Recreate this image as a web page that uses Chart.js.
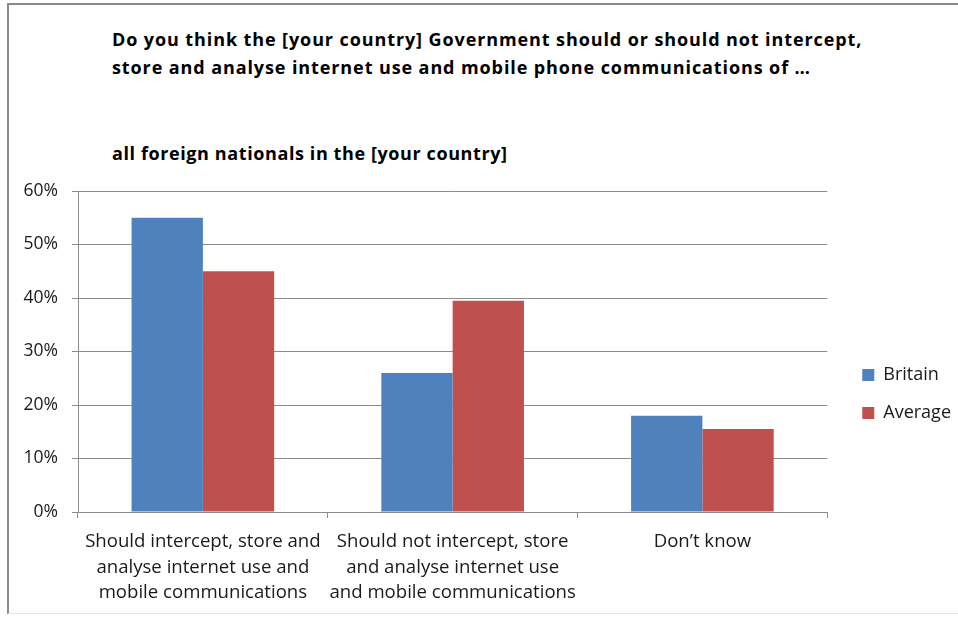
<!DOCTYPE html>
<html>
<head>
<meta charset="utf-8">
<title>Interception of communications of foreign nationals</title>
<script src="https://cdn.jsdelivr.net/npm/chart.js@4.4.1/dist/chart.umd.min.js"></script>
<style>
  html, body { margin: 0; padding: 0; background: #fff; }
  #wrap { position: relative; width: 958px; height: 617px; overflow: hidden; }
  #frame {
    position: absolute; left: 7px; top: 3px; width: 1000px; height: 611px;
    border-top: 2px solid #8a8a8a; border-left: 2px solid #8a8a8a;
    border-bottom: 1px solid #e4e4e4; box-sizing: border-box;
  }
  .heading {
    position: absolute; left: 112px; margin: 0;
    font-family: "Open Sans", Lato, sans-serif; font-weight: bold;
    font-size: 18px; line-height: 28px; color: #000; white-space: nowrap;
    letter-spacing: 0.9px;
  }
  #q { top: 25px; }
  #sub { top: 139px; letter-spacing: 0.6px; }
  canvas { position: absolute; left: 0; top: 0; }
</style>
</head>
<body>
<div id="wrap">
  <div id="frame"></div>
  <div class="heading" id="q">Do you think the [your country] Government should or should not intercept,<br>store and analyse internet use and mobile phone communications of …</div>
  <div class="heading" id="sub">all foreign nationals in the [your country]</div>
  <canvas id="chart" width="958" height="617"></canvas>
</div>
<script>
// Answer categories (each label split into its display lines)
const categories = [
  ['Should intercept, store and', 'analyse internet use and', 'mobile communications'],
  ['Should not intercept, store', 'and analyse internet use', 'and mobile communications'],
  ['Don\u2019t know']
];

// Share of respondents per answer
const britain = [0.55, 0.26, 0.18];
const average = [0.45, 0.395, 0.155];

// Value axis ticks
const yTicks = [0, 0.1, 0.2, 0.3, 0.4, 0.5, 0.6];

const FONT = '"Open Sans", Lato, sans-serif';
const GRID = '#8c8c8c';

// Move the legend out to the right of the plot and down to mid-height
const legendOffset = {
  id: 'legendOffset',
  afterLayout(chart, args, opts) {
    const lg = chart.legend;
    if (!lg) return;
    lg.left += opts.dx; lg.right += opts.dx;
    lg.top += opts.dy; lg.bottom += opts.dy;
  }
};

new Chart(document.getElementById('chart'), {
  type: 'bar',
  data: {
    labels: categories,
    datasets: [
      { label: 'Britain', data: britain, backgroundColor: '#4F81BD', borderWidth: 0 },
      { label: 'Average', data: average, backgroundColor: '#C0504D', borderWidth: 0 }
    ]
  },
  options: {
    responsive: false,
    animation: false,
    layout: { padding: { top: 191, right: 12, bottom: 0, left: 0 } },
    datasets: { bar: { categoryPercentage: 0.571, barPercentage: 1.0 } },
    scales: {
      x: {
        afterFit: s => { s.height = 105; },
        grid: { display: true, drawOnChartArea: false, drawTicks: true, tickLength: 6, color: GRID, offset: true },
        border: { display: true, color: GRID, width: 1 },
        ticks: {
          color: '#1a1a1a', padding: 11, maxRotation: 0, autoSkip: false,
          font: { family: FONT, size: 18.6, lineHeight: 1.37 }
        }
      },
      y: {
        min: 0, max: 0.6,
        afterFit: s => { s.width = 78; },
        afterBuildTicks: s => { s.ticks = yTicks.map(v => ({ value: v })); },
        grid: { color: GRID, tickLength: 6, drawTicks: true },
        border: { display: true, color: GRID, width: 1 },
        ticks: {
          color: '#1a1a1a', padding: 14,
          font: { family: FONT, size: 17.5 },
          callback: v => Math.round(v * 100) + '%'
        }
      }
    },
    plugins: {
      title: { display: false },
      tooltip: { enabled: false },
      legend: {
        position: 'right',
        align: 'center',
        labels: {
          boxWidth: 12, boxHeight: 12, padding: 20,
          color: '#1a1a1a',
          font: { family: FONT, size: 18 }
        }
      },
      legendOffset: { dx: 15, dy: -10 }
    }
  },
  plugins: [legendOffset]
});
</script>
</body>
</html>
